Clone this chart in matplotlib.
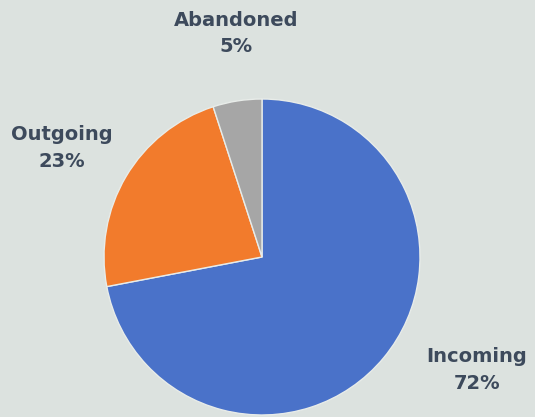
import matplotlib.pyplot as plt

labels = ["Incoming", "Outgoing", "Abandoned"]
shares = [72, 23, 5]
colors = ["#4a72c9", "#f27b2c", "#a6a6a6"]

bg = "#dce2df"
fig = plt.figure(figsize=(5.35, 4.17), dpi=100, facecolor=bg)
# pie centre at about (262, 257) px, radius 158 px
ax = fig.add_axes([104 / 535, 2 / 417, 316 / 535, 316 / 417])
ax.set_facecolor(bg)
ax.pie(shares, colors=colors, startangle=90, counterclock=False, radius=1,
       wedgeprops=dict(edgecolor="#e8ece9", linewidth=1))
ax.set_xlim(-1, 1)
ax.set_ylim(-1, 1)
ax.set_aspect("equal")
ax.axis("off")

label_pos = [(1.36, -0.715), (-1.266, 0.69), (-0.165, 1.415)]
for name, val, (x, y) in zip(labels, shares, label_pos):
    ax.text(x, y, f"{name}\n{val}%", ha="center", va="center", fontsize=14,
            fontweight="bold", color="#3d4a5c", linespacing=1.5, clip_on=False)

fig.savefig("out.png", dpi=100, facecolor=bg)
